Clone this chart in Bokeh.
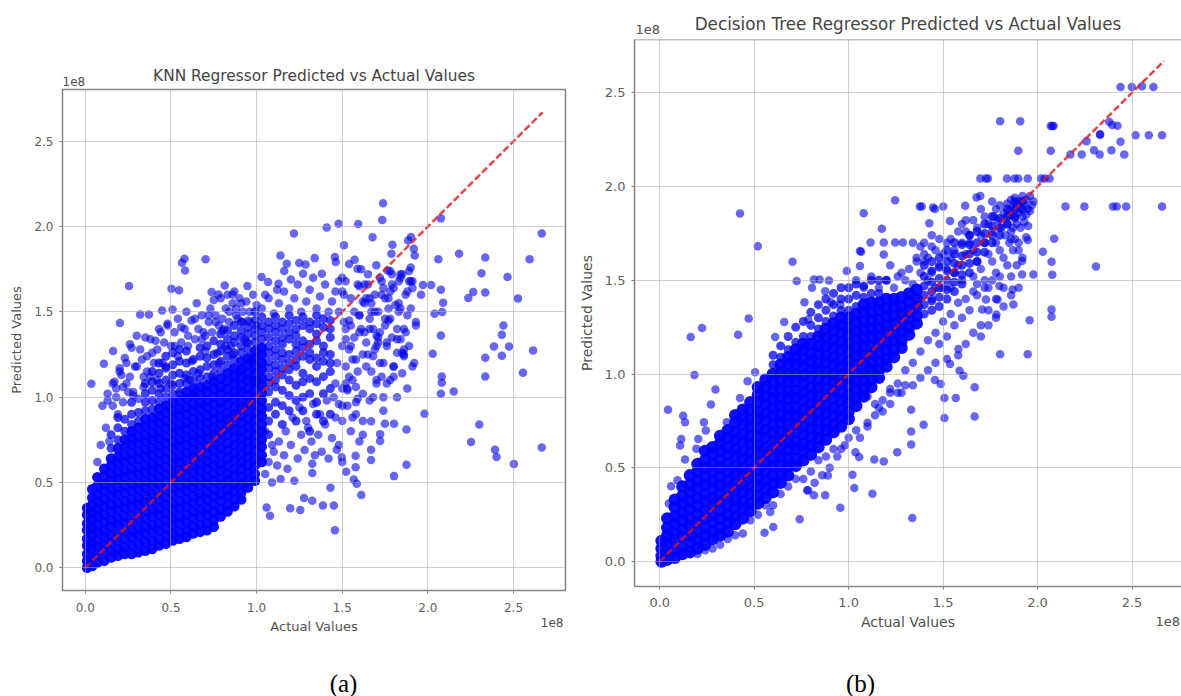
from bokeh.plotting import figure
from bokeh.layouts import row, column
from bokeh.models import FixedTicker, NumeralTickFormatter, Span, Title, Spacer
from bokeh.core.properties import value
from bokeh.embed import file_html
from bokeh.resources import INLINE

# All values are in units of 1e8, as the axes show them.
TICKS = [0.0, 0.5, 1.0, 1.5, 2.0, 2.5]
TITLE_A = "KNN Regressor Predicted vs Actual Values"
TITLE_B = "Decision Tree Regressor Predicted vs Actual Values"
X_LABEL = "Actual Values"
Y_LABEL = "Predicted Values"
IDEAL = [0.0, 2.67]

# ---- Panel (a): thick core, read column by column
a_core_x = [0.01, 0.04, 0.07, 0.11, 0.15, 0.19, 0.23, 0.27, 0.31, 0.35, 0.39, 0.43, 0.47, 0.51, 0.55, 0.59, 0.63, 0.67, 0.71, 0.75, 0.79, 0.83, 0.87, 0.91, 0.95, 0.99, 1.03]
a_core_y = [
 [0.00, 0.04, 0.08, 0.13, 0.17, 0.22, 0.26, 0.31, 0.35],
 [0.01, 0.05, 0.10, 0.14, 0.19, 0.23, 0.28, 0.32, 0.37, 0.41, 0.46],
 [0.03, 0.07, 0.12, 0.16, 0.21, 0.25, 0.30, 0.34, 0.39, 0.43, 0.48, 0.53],
 [0.04, 0.09, 0.13, 0.18, 0.22, 0.27, 0.31, 0.36, 0.40, 0.45, 0.49, 0.54, 0.58],
 [0.06, 0.10, 0.15, 0.19, 0.24, 0.28, 0.33, 0.37, 0.42, 0.46, 0.51, 0.55, 0.60, 0.64],
 [0.07, 0.11, 0.16, 0.20, 0.25, 0.29, 0.34, 0.38, 0.43, 0.47, 0.52, 0.56, 0.61, 0.65, 0.70],
 [0.08, 0.12, 0.17, 0.21, 0.26, 0.30, 0.35, 0.39, 0.44, 0.48, 0.53, 0.57, 0.62, 0.66, 0.71, 0.75],
 [0.08, 0.13, 0.18, 0.22, 0.27, 0.31, 0.36, 0.40, 0.45, 0.49, 0.54, 0.58, 0.63, 0.67, 0.72, 0.76, 0.80],
 [0.09, 0.14, 0.19, 0.23, 0.28, 0.32, 0.37, 0.41, 0.46, 0.50, 0.55, 0.59, 0.64, 0.68, 0.73, 0.77, 0.82],
 [0.10, 0.15, 0.20, 0.24, 0.29, 0.33, 0.38, 0.42, 0.47, 0.51, 0.56, 0.60, 0.65, 0.69, 0.74, 0.78, 0.83, 0.87],
 [0.11, 0.16, 0.21, 0.25, 0.30, 0.34, 0.39, 0.43, 0.48, 0.52, 0.57, 0.61, 0.66, 0.70, 0.75, 0.79, 0.84, 0.88],
 [0.13, 0.17, 0.22, 0.26, 0.31, 0.35, 0.40, 0.44, 0.49, 0.53, 0.58, 0.62, 0.67, 0.71, 0.76, 0.80, 0.85, 0.89, 0.93],
 [0.14, 0.19, 0.23, 0.28, 0.32, 0.37, 0.41, 0.46, 0.50, 0.55, 0.59, 0.64, 0.68, 0.73, 0.77, 0.82, 0.86, 0.91, 0.95],
 [0.16, 0.20, 0.25, 0.29, 0.34, 0.38, 0.43, 0.47, 0.52, 0.56, 0.61, 0.65, 0.70, 0.74, 0.79, 0.83, 0.88, 0.92, 0.97],
 [0.17, 0.21, 0.26, 0.30, 0.35, 0.39, 0.44, 0.48, 0.53, 0.57, 0.62, 0.66, 0.71, 0.75, 0.80, 0.84, 0.89, 0.93, 0.98],
 [0.18, 0.22, 0.27, 0.31, 0.36, 0.40, 0.45, 0.49, 0.54, 0.58, 0.63, 0.67, 0.72, 0.76, 0.81, 0.85, 0.90, 0.94, 0.99, 1.03],
 [0.20, 0.24, 0.29, 0.33, 0.38, 0.42, 0.47, 0.51, 0.56, 0.60, 0.65, 0.69, 0.74, 0.78, 0.83, 0.87, 0.92, 0.96, 1.01, 1.05],
 [0.21, 0.25, 0.30, 0.34, 0.39, 0.43, 0.48, 0.52, 0.57, 0.61, 0.66, 0.70, 0.75, 0.79, 0.84, 0.88, 0.93, 0.97, 1.02, 1.06],
 [0.22, 0.26, 0.31, 0.35, 0.40, 0.44, 0.49, 0.53, 0.58, 0.62, 0.67, 0.71, 0.76, 0.80, 0.85, 0.89, 0.94, 0.98, 1.03, 1.07],
 [0.24, 0.28, 0.33, 0.37, 0.42, 0.46, 0.51, 0.55, 0.60, 0.64, 0.69, 0.73, 0.78, 0.82, 0.87, 0.91, 0.96, 1.00, 1.05, 1.09],
 [0.30, 0.34, 0.39, 0.43, 0.48, 0.52, 0.57, 0.61, 0.66, 0.70, 0.75, 0.79, 0.84, 0.88, 0.93, 0.97, 1.02, 1.06, 1.11],
 [0.33, 0.37, 0.42, 0.46, 0.51, 0.55, 0.60, 0.64, 0.69, 0.73, 0.78, 0.82, 0.87, 0.91, 0.96, 1.00, 1.05, 1.09, 1.14],
 [0.36, 0.40, 0.45, 0.49, 0.54, 0.58, 0.63, 0.67, 0.72, 0.76, 0.81, 0.85, 0.90, 0.94, 0.99, 1.03, 1.08, 1.12, 1.17],
 [0.40, 0.44, 0.49, 0.53, 0.58, 0.62, 0.67, 0.71, 0.76, 0.80, 0.85, 0.89, 0.94, 0.98, 1.03, 1.07, 1.12, 1.16, 1.21],
 [0.47, 0.51, 0.56, 0.60, 0.65, 0.69, 0.74, 0.78, 0.83, 0.87, 0.92, 0.96, 1.01, 1.05, 1.10, 1.14, 1.19, 1.23],
 [0.51, 0.55, 0.60, 0.64, 0.69, 0.73, 0.78, 0.82, 0.87, 0.91, 0.96, 1.00, 1.05, 1.09, 1.14, 1.18, 1.23, 1.27],
 [0.62, 0.66, 0.71, 0.75, 0.80, 0.84, 0.89, 0.93, 0.98, 1.02, 1.07, 1.11, 1.16, 1.20, 1.25, 1.29],
]
# Panel (a): the broken, not quite solid part of the cloud, read column by column
a_mid_x = [0.15, 0.19, 0.23, 0.27, 0.31, 0.35, 0.39, 0.43, 0.47, 0.51, 0.55, 0.59, 0.63, 0.67, 0.71, 0.75, 0.79, 0.83, 0.87, 0.91, 0.95, 0.99, 1.03, 1.07, 1.11, 1.15, 1.19, 1.23, 1.27, 1.31, 1.35, 1.39, 1.43]
a_mid_y = [
 [0.70, 0.78],
 [0.75, 0.82, 0.88],
 [0.80, 0.87],
 [0.84, 0.90, 0.97],
 [0.86, 0.91],
 [0.92, 0.97, 1.02, 1.08],
 [0.93, 0.98, 1.04, 1.09, 1.15],
 [0.97, 1.02, 1.08, 1.14, 1.20],
 [1.00, 1.05, 1.10, 1.17, 1.24],
 [1.02, 1.07, 1.13, 1.19, 1.26],
 [1.03, 1.08, 1.14, 1.21, 1.28],
 [1.08, 1.13, 1.20, 1.27],
 [1.10, 1.15, 1.22],
 [1.11, 1.16, 1.24, 1.29],
 [1.12, 1.18, 1.23, 1.30],
 [1.14, 1.19, 1.25, 1.33],
 [1.16, 1.21, 1.27, 1.31, 1.37],
 [1.19, 1.24, 1.28, 1.34, 1.39],
 [1.22, 1.26, 1.32, 1.36, 1.42],
 [1.26, 1.30, 1.35, 1.39, 1.44],
 [1.28, 1.32, 1.37, 1.41],
 [1.32, 1.36, 1.40, 1.45, 1.50],
 [1.34, 1.38, 1.42, 1.47],
 [0.78, 0.86, 0.94, 1.03, 1.08, 1.12, 1.17, 1.21, 1.26, 1.30, 1.35, 1.40, 1.44],
 [0.90, 0.97, 1.06, 1.10, 1.15, 1.19, 1.24, 1.28, 1.33, 1.38, 1.42, 1.47],
 [0.84, 0.95, 1.04, 1.13, 1.17, 1.22, 1.26, 1.31, 1.35, 1.40, 1.44],
 [0.92, 1.01, 1.10, 1.16, 1.20, 1.25, 1.34, 1.38, 1.43, 1.48],
 [0.86, 0.98, 1.07, 1.18, 1.22, 1.27, 1.31, 1.36, 1.40, 1.45],
 [0.92, 1.00, 1.09, 1.14, 1.24, 1.29, 1.33, 1.42, 1.47],
 [0.80, 1.02, 1.11, 1.22, 1.26, 1.31, 1.40, 1.44],
 [0.90, 0.97, 1.09, 1.18, 1.23, 1.33, 1.37, 1.43, 1.48],
 [0.86, 1.02, 1.12, 1.21, 1.26, 1.30, 1.41, 1.46],
 [0.90, 1.05, 1.15, 1.20, 1.25, 1.35, 1.40, 1.45],
]

# ---- Panel (a): separately visible points
a_actual = [
 1.738, 1.734, 2.076, 2.665, 1.593, 1.479, 1.409, 1.218, 1.677, 1.510, 1.793, 1.787, 1.901, 1.885, 1.918, 1.923, 2.061, 2.182, 2.335, 2.594,
 2.313, 2.465, 2.335, 2.265, 2.236, 2.526, 2.076, 1.971, 2.019, 2.089, 2.083, 2.039, 2.076, 2.028, 2.441, 2.432, 2.386, 2.474, 2.432, 2.335,
 2.614, 2.335, 2.555, 2.081, 2.081, 2.076, 2.151, 1.980, 2.300, 2.252, 2.665, 2.392, 2.401, 2.502, 1.875, 1.802, 1.875, 1.749, 1.802, 1.611,
 1.457, 1.431, 1.451, 1.387, 1.325, 1.277, 1.255, 1.196, 1.078, 1.058, 1.668, 1.721, 1.721, 1.668, 1.668, 1.578, 1.497, 1.468, 1.578, 1.523,
 1.567, 1.585, 1.325, 1.325, 0.035, 0.255, 0.579, 0.564, 0.582, 0.702, 0.202, 0.108, 0.162, 0.503, 0.547, 0.320, 0.371, 0.448, 0.509, 0.814,
 0.946, 0.737, 0.777, 0.860, 1.139, 1.176, 1.161, 1.249, 1.286, 1.339, 1.457, 1.462, 1.271, 1.381, 1.029, 1.067, 1.128, 1.572, 1.589, 1.699,
 1.765,
 0.16, 0.19, 0.14, 0.22, 0.25, 0.28, 0.31, 0.24, 0.21, 0.34, 0.38, 0.29, 0.36, 0.42, 0.33, 0.39, 0.45, 0.41, 0.27, 0.18,
 0.12, 0.09, 0.07, 0.13, 0.17, 0.23, 0.20, 0.26, 0.30, 0.35, 0.43, 0.48, 0.52, 0.47, 0.56, 0.60, 0.54, 0.64, 0.58, 0.62,
 0.68, 0.66, 0.72, 0.70, 0.76, 0.74, 0.80, 0.78, 0.84, 0.82, 0.88, 0.86, 0.92, 0.90, 0.96, 0.94, 1.00, 0.98, 0.50, 0.44,
 0.55, 0.61, 0.59, 0.65, 0.69, 0.63, 0.73, 0.77, 0.75, 0.81, 0.79, 0.85, 0.83, 0.89, 0.87, 0.93, 0.91, 0.97, 0.95, 1.01,
 1.50, 1.53, 1.56, 1.59, 1.62, 1.65, 1.68, 1.71, 1.74, 1.77, 1.80, 1.83, 1.86, 1.89, 1.52, 1.55, 1.58, 1.61, 1.64, 1.67,
 1.70, 1.73, 1.76, 1.79, 1.82, 1.85, 1.88, 1.91, 1.51, 1.54, 1.57, 1.60, 1.63, 1.66, 1.69, 1.72, 1.75, 1.78, 1.81, 1.84,
 1.87, 1.90, 1.50, 1.56, 1.62, 1.68, 1.74, 1.80, 1.86, 1.53, 1.59, 1.65, 1.71, 1.77, 1.83, 1.89, 1.51, 1.58, 1.64, 1.70,
 1.76, 1.82, 1.88, 1.55, 1.61, 1.67, 1.73, 1.79, 1.85, 1.91, 1.52, 1.60, 1.66, 1.72, 1.78, 1.84, 1.90, 1.93, 1.96, 1.54,
 1.63, 1.69, 1.75,
 1.03, 1.07, 1.10, 1.13, 1.16, 1.19, 1.22, 1.24, 1.26, 1.29, 1.31, 1.33, 1.35, 1.37, 1.40, 1.42, 1.44, 1.46, 1.48, 1.20, 1.12, 1.05,
 1.50, 1.52, 1.54, 1.55, 1.57, 1.59, 1.60, 1.62, 1.63, 1.65, 1.66, 1.67, 1.69, 1.70, 1.71, 1.73, 1.74, 1.75, 1.77, 1.78, 1.79, 1.80,
 1.82, 1.83, 1.84, 1.85, 1.86, 1.87, 1.88, 1.89, 1.90, 1.91, 1.92, 1.93, 1.50, 1.52, 1.54, 1.56, 1.58, 1.60, 1.62, 1.64, 1.66, 1.68,
 1.70, 1.72, 1.74, 1.76, 1.78, 1.80, 1.82, 1.84, 1.86, 1.50, 1.52, 1.48, 1.47, 1.46, 1.48, 1.50, 1.53, 1.55, 1.58, 1.60, 1.62,
 0.10, 0.13, 0.16, 0.18, 0.20, 0.22, 0.24, 0.26, 0.28, 0.30, 0.32, 0.34, 0.36, 0.38, 0.40, 0.42, 0.44, 0.46, 0.48, 0.50, 0.52, 0.54,
 0.56, 0.58, 0.60, 0.62, 0.64, 0.66, 0.68, 0.70, 0.72, 0.74, 0.76, 0.78, 0.80, 0.82, 0.84, 0.86, 0.88, 0.90, 0.92, 0.94, 0.96, 0.98, 1.00,
 1.05, 1.07, 1.09, 1.10, 1.12, 1.13, 1.14, 1.16, 1.18, 1.20, 1.22, 1.24, 1.26, 1.28, 1.30, 1.32, 1.34, 1.36, 1.38, 1.40, 1.42, 1.44,
 1.46, 1.48, 1.50, 1.05, 1.09, 1.17, 1.21, 1.25, 1.29, 1.33, 1.37, 1.41, 1.45,
]
a_predicted = [
 2.136, 2.039, 2.048, 1.960, 2.015, 2.017, 1.994, 1.960, 1.937, 1.890, 1.894, 1.841, 1.939, 1.919, 1.870, 1.831, 1.808, 1.841, 1.819, 1.808,
 1.726, 1.704, 1.614, 1.616, 1.581, 1.579, 1.630, 1.657, 1.657, 1.553, 1.499, 1.489, 1.362, 1.254, 1.420, 1.366, 1.297, 1.297, 1.243, 1.231,
 1.274, 1.121, 1.143, 1.121, 1.084, 1.020, 1.033, 0.903, 0.840, 0.737, 0.705, 0.691, 0.649, 0.608, 0.604, 0.537, 0.811, 0.844, 0.844, 0.427,
 0.220, 0.469, 0.365, 0.365, 0.392, 0.409, 0.338, 0.349, 0.305, 0.353, 0.859, 0.782, 0.743, 0.691, 0.631, 0.656, 0.647, 0.691, 0.589, 0.562,
 0.517, 0.492, 0.610, 0.556, 1.078, 1.651, 1.812, 1.788, 1.743, 1.808, 1.434, 1.196, 1.270, 1.636, 1.626, 1.485, 1.485, 1.508, 1.514, 1.655,
 1.651, 1.616, 1.602, 1.602, 1.831, 1.782, 1.739, 1.786, 1.778, 1.815, 1.821, 1.792, 1.724, 1.724, 1.704, 1.675, 1.665, 1.806, 1.753, 1.773,
 1.743,
 0.95, 0.90, 0.74, 0.97, 1.03, 1.01, 0.99, 1.08, 1.13, 1.06, 1.12, 1.18, 1.15, 1.10, 1.22, 1.26, 1.20, 1.33, 1.29, 1.05,
 0.82, 0.72, 0.62, 0.98, 1.09, 1.23, 1.17, 1.31, 1.36, 1.35, 1.40, 1.43, 1.30, 1.18, 1.41, 1.36, 1.24, 1.46, 1.11, 1.21,
 1.34, 1.14, 1.48, 1.27, 1.44, 1.12, 1.39, 1.20, 1.50, 1.30, 1.52, 1.25, 1.44, 1.15, 1.50, 1.32, 1.42, 1.10, 1.08, 1.05,
 1.02, 1.10, 1.50, 1.55, 1.38, 1.02, 1.52, 1.26, 1.57, 1.40, 1.58, 1.30, 1.60, 1.46, 1.62, 1.34, 1.55, 1.22, 1.45, 1.10,
 0.95, 1.05, 0.88, 1.15, 0.78, 1.25, 1.00, 1.35, 0.92, 1.45, 1.12, 1.55, 1.25, 1.68, 1.08, 1.30, 0.97, 1.40, 1.18, 1.50,
 1.10, 1.60, 1.32, 1.66, 1.40, 1.72, 1.48, 1.18, 1.60, 1.12, 1.50, 1.65, 1.38, 1.58, 1.28, 1.70, 1.46, 1.62, 1.54, 1.70,
 1.38, 1.76, 1.70, 1.22, 1.56, 1.40, 1.64, 1.18, 1.28, 1.04, 0.99, 1.66, 1.32, 1.52, 1.68, 1.74, 1.44, 1.06, 1.58, 1.36,
 1.08, 1.34, 1.62, 1.42, 1.75, 1.55, 1.12, 1.72, 1.26, 1.64, 1.34, 1.48, 1.46, 1.20, 1.74, 1.52, 1.68, 1.42, 1.60, 1.78,
 1.66, 1.50, 1.58,
 1.52, 1.58, 1.49, 1.55, 1.62, 1.52, 1.58, 1.66, 1.50, 1.56, 1.63, 1.70, 1.52, 1.59, 1.66, 1.50, 1.56, 1.62, 1.68, 1.69, 1.63, 1.60,
 1.62, 1.68, 1.45, 1.58, 1.35, 1.66, 1.48, 1.25, 1.55, 1.72, 1.40, 1.15, 1.60, 1.30, 1.50, 1.68, 1.20, 1.42, 1.58, 1.10, 1.35, 1.64,
 1.26, 1.50, 1.72, 1.14, 1.40, 1.60, 1.05, 1.30, 1.52, 1.68, 1.20, 1.44, 1.05, 1.18, 1.28, 1.10, 1.22, 1.38, 1.02, 1.32, 0.98, 1.24,
 1.08, 1.38, 1.00, 1.30, 1.46, 1.18, 1.00, 1.34, 1.24, 1.30, 1.40, 1.50, 1.20, 1.08, 0.96, 0.86, 0.95, 0.80, 0.90, 0.74, 0.86,
 0.95, 1.02, 1.08, 1.00, 1.15, 1.06, 1.20, 1.12, 1.03, 1.18, 1.28, 1.12, 1.24, 1.34, 1.20, 1.28, 1.38, 1.32, 1.42, 1.30, 1.38, 1.46,
 1.32, 1.40, 1.30, 1.45, 1.34, 1.40, 1.48, 1.36, 1.44, 1.38, 1.48, 1.42, 1.46, 1.52, 1.44, 1.55, 1.48, 1.58, 1.50, 1.56, 1.44, 1.60, 1.54,
 0.55, 0.62, 0.50, 0.68, 0.60, 0.74, 0.52, 0.66, 0.58, 0.72, 0.51, 0.64, 0.78, 0.69, 0.82, 0.74, 0.66, 0.78, 0.68, 0.84, 0.64, 0.76,
 0.88, 0.72, 0.62, 0.80, 0.72, 0.80, 0.88, 0.94, 0.86, 0.96, 0.90, 0.98, 1.00,
]

# ---- Panel (b): thick core, read column by column
b_core_x = [0.01, 0.04, 0.08, 0.12, 0.16, 0.20, 0.24, 0.28, 0.32, 0.36, 0.40, 0.44, 0.48, 0.52, 0.56, 0.60, 0.64, 0.68, 0.72, 0.76, 0.80, 0.84, 0.88, 0.92, 0.96, 1.00, 1.04, 1.08, 1.12, 1.16, 1.20, 1.24, 1.28, 1.32, 1.36]
b_core_y = [
 [0.00, 0.03, 0.07, 0.11],
 [0.01, 0.05, 0.09, 0.14, 0.18, 0.23],
 [0.02, 0.06, 0.11, 0.15, 0.20, 0.24, 0.29, 0.33],
 [0.04, 0.08, 0.13, 0.17, 0.22, 0.26, 0.31, 0.35, 0.40],
 [0.05, 0.10, 0.14, 0.19, 0.23, 0.28, 0.32, 0.37, 0.41, 0.46],
 [0.07, 0.12, 0.16, 0.21, 0.25, 0.30, 0.34, 0.39, 0.43, 0.48, 0.52],
 [0.09, 0.14, 0.18, 0.23, 0.27, 0.32, 0.36, 0.41, 0.45, 0.50, 0.54, 0.59],
 [0.12, 0.16, 0.21, 0.25, 0.30, 0.34, 0.39, 0.43, 0.48, 0.52, 0.57, 0.61],
 [0.14, 0.18, 0.23, 0.27, 0.32, 0.36, 0.41, 0.45, 0.50, 0.54, 0.59, 0.63, 0.67],
 [0.16, 0.21, 0.25, 0.30, 0.34, 0.39, 0.43, 0.48, 0.52, 0.57, 0.61, 0.66, 0.70],
 [0.20, 0.24, 0.29, 0.33, 0.38, 0.42, 0.47, 0.51, 0.56, 0.60, 0.65, 0.69, 0.74, 0.78],
 [0.23, 0.28, 0.32, 0.37, 0.41, 0.46, 0.50, 0.55, 0.59, 0.64, 0.68, 0.73, 0.77, 0.81],
 [0.27, 0.31, 0.36, 0.40, 0.45, 0.49, 0.54, 0.58, 0.63, 0.67, 0.72, 0.76, 0.81, 0.85],
 [0.31, 0.35, 0.40, 0.44, 0.49, 0.53, 0.58, 0.62, 0.67, 0.71, 0.76, 0.80, 0.85, 0.89, 0.93],
 [0.34, 0.39, 0.43, 0.48, 0.52, 0.57, 0.61, 0.66, 0.70, 0.75, 0.79, 0.84, 0.88, 0.93, 0.97],
 [0.37, 0.42, 0.46, 0.51, 0.55, 0.60, 0.64, 0.69, 0.73, 0.78, 0.82, 0.87, 0.91, 0.96, 1.00],
 [0.42, 0.47, 0.51, 0.56, 0.60, 0.65, 0.69, 0.74, 0.78, 0.83, 0.87, 0.92, 0.96, 1.01, 1.05],
 [0.46, 0.51, 0.55, 0.60, 0.64, 0.69, 0.73, 0.78, 0.82, 0.87, 0.91, 0.96, 1.00, 1.05, 1.09],
 [0.51, 0.55, 0.60, 0.64, 0.69, 0.73, 0.78, 0.82, 0.87, 0.91, 0.96, 1.00, 1.05, 1.09, 1.13],
 [0.54, 0.59, 0.63, 0.68, 0.72, 0.77, 0.81, 0.86, 0.90, 0.95, 0.99, 1.04, 1.08, 1.13, 1.16],
 [0.57, 0.62, 0.66, 0.71, 0.75, 0.80, 0.84, 0.89, 0.93, 0.98, 1.02, 1.07, 1.11, 1.16],
 [0.61, 0.66, 0.70, 0.75, 0.79, 0.84, 0.88, 0.93, 0.97, 1.02, 1.06, 1.11, 1.15, 1.20],
 [0.65, 0.70, 0.74, 0.79, 0.83, 0.88, 0.92, 0.97, 1.01, 1.06, 1.10, 1.15, 1.19, 1.24],
 [0.69, 0.73, 0.78, 0.82, 0.87, 0.91, 0.96, 1.00, 1.05, 1.09, 1.14, 1.18, 1.23, 1.27],
 [0.72, 0.77, 0.81, 0.86, 0.90, 0.95, 0.99, 1.04, 1.08, 1.13, 1.17, 1.22, 1.26, 1.30],
 [0.76, 0.80, 0.85, 0.89, 0.94, 0.98, 1.03, 1.07, 1.12, 1.16, 1.21, 1.25, 1.30],
 [0.83, 0.87, 0.92, 0.96, 1.01, 1.05, 1.10, 1.14, 1.19, 1.23, 1.28, 1.32],
 [0.88, 0.92, 0.97, 1.01, 1.06, 1.10, 1.15, 1.19, 1.24, 1.28, 1.33, 1.37],
 [0.93, 0.97, 1.02, 1.06, 1.11, 1.15, 1.20, 1.24, 1.29, 1.33, 1.38],
 [0.98, 1.02, 1.07, 1.11, 1.16, 1.20, 1.25, 1.29, 1.34, 1.38],
 [1.04, 1.08, 1.13, 1.17, 1.22, 1.26, 1.31, 1.35, 1.40],
 [1.09, 1.13, 1.18, 1.22, 1.27, 1.31, 1.36, 1.40],
 [1.14, 1.18, 1.23, 1.27, 1.32, 1.36, 1.41],
 [1.21, 1.25, 1.30, 1.34, 1.39, 1.43],
 [1.27, 1.31, 1.36, 1.40, 1.45],
]
# Panel (b): the broken part of the cloud near the diagonal, read column by column
b_mid_x = [0.60, 0.64, 0.68, 0.72, 0.76, 0.80, 0.84, 0.88, 0.92, 0.96, 1.00, 1.04, 1.08, 1.12, 1.16, 1.20, 1.40, 1.44, 1.48, 1.52, 1.56, 1.60, 1.64, 1.68, 1.72, 1.76, 1.80, 1.84, 1.88, 1.92]
b_mid_y = [
 [1.05, 1.10],
 [1.09, 1.15],
 [1.13, 1.20],
 [1.17, 1.25],
 [1.20, 1.28],
 [1.20, 1.26, 1.33],
 [1.24, 1.30, 1.37],
 [1.28, 1.34, 1.40],
 [1.31, 1.37, 1.43],
 [1.34, 1.40, 1.46],
 [1.34, 1.40, 1.46],
 [1.36, 1.42, 1.48],
 [1.41, 1.47],
 [1.43, 1.50],
 [1.43, 1.50],
 [1.50],
 [1.32, 1.37, 1.42, 1.47, 1.52, 1.58],
 [1.34, 1.39, 1.44, 1.49, 1.55, 1.60],
 [1.36, 1.41, 1.46, 1.51, 1.57, 1.62],
 [1.40, 1.45, 1.50, 1.55, 1.60, 1.66],
 [1.44, 1.49, 1.54, 1.59, 1.64, 1.70],
 [1.48, 1.53, 1.58, 1.63, 1.69],
 [1.54, 1.59, 1.64, 1.69, 1.74],
 [1.60, 1.65, 1.70, 1.76],
 [1.65, 1.70, 1.75, 1.80],
 [1.70, 1.74, 1.79, 1.84],
 [1.74, 1.78, 1.83],
 [1.80, 1.84, 1.88],
 [1.84, 1.88, 1.92],
 [1.88, 1.92],
]

# ---- Panel (b): separately visible points
b_actual = [
 2.439, 2.499, 2.553, 2.613, 1.802, 1.908, 2.078, 2.070, 2.085, 2.379, 2.395, 2.423, 2.331, 2.331, 2.519, 2.589, 2.659, 2.259, 2.439, 1.898,
 2.070, 2.299, 2.391, 2.174, 2.234, 2.329, 2.459, 1.697, 1.727, 1.737, 1.838, 1.878, 1.898, 1.948, 2.018, 2.038, 2.064, 2.148, 2.248, 2.399,
 2.419, 2.469, 2.659, 1.377, 1.387, 1.447, 1.457, 1.501, 1.246, 1.080, 0.425, 0.519, 0.703, 0.725, 1.427, 1.537, 1.617, 1.677, 1.697, 1.176,
 1.116, 1.186, 1.246, 1.287, 1.060, 1.066, 1.186, 2.088, 1.948, 2.028, 2.074, 1.918, 2.309, 2.078, 1.978, 1.918, 2.074, 2.074, 1.958, 1.872,
 1.782, 1.707, 1.727, 1.788, 1.798, 1.868, 0.990, 1.060, 0.816, 0.846, 0.896, 0.806, 0.876, 0.766, 0.906, 0.956, 0.471, 0.659, 0.786, 0.224,
 0.164, 0.415, 0.611, 0.856, 1.802, 1.948, 1.581, 1.537, 1.587, 1.607, 1.667, 1.667, 1.507, 1.507, 1.567, 1.457, 1.487, 1.397, 1.331, 1.331,
 1.331, 1.257, 1.186, 1.136, 1.020, 1.030, 1.126, 0.956, 1.337, 0.741, 0.555, 0.601, 0.585, 0.876, 0.890, 0.816, 0.786, 1.056, 1.036, 0.184,
 0.044, 0.295, 0.271, 0.124, 0.134, 0.114, 0.108, 0.234, 0.244, 0.204, 0.194, 0.134, 0.465, 0.505, 0.425, 0.315, 0.355, 0.094, 0.060, 0.048,
 1.84, 1.86, 1.88, 1.90, 1.92, 1.94, 1.96, 1.98, 1.85, 1.87, 1.89, 1.91, 1.93, 1.95, 1.97, 1.84, 1.86, 1.88, 1.90, 1.92,
 1.94, 1.96, 1.87, 1.89, 1.91, 1.93, 1.95, 1.86, 1.90, 1.94, 1.76, 1.78, 1.80, 1.82, 1.84, 1.86, 1.88, 1.90, 1.92, 1.77,
 1.79, 1.81, 1.83, 1.85, 1.87, 1.89, 1.70, 1.72, 1.74, 1.76, 1.78, 1.80, 1.82, 1.84, 1.86, 1.66, 1.68, 1.70, 1.72, 1.74,
 1.76, 1.78, 1.60, 1.62, 1.64, 1.66, 1.68, 1.70, 1.72, 1.74, 1.62, 1.64, 1.66, 1.68, 1.58, 1.60, 1.62, 1.54, 1.56, 1.58,
 1.60, 1.52, 1.54, 1.56, 1.48, 1.50, 1.52, 1.54, 1.44, 1.46, 1.48, 1.50, 1.40, 1.42, 1.44, 1.46, 1.38, 1.40, 1.42, 1.44,
 1.36, 1.38, 1.34, 1.30, 1.34, 1.28, 1.24, 1.20, 1.16, 1.22, 1.26, 1.32, 1.36, 1.40, 1.44, 1.12, 1.08, 1.04, 1.10, 1.14,
 1.18, 1.22, 1.26, 1.30, 1.34, 1.38, 1.42, 1.46, 1.50, 1.54, 1.58, 1.62, 1.66, 1.48, 1.52, 1.56, 1.60, 1.64, 1.68, 1.72,
 1.76, 1.80, 1.58, 1.62, 1.66, 1.70, 1.74, 1.78, 1.82, 1.70, 1.74, 1.78, 1.82, 1.86, 1.90, 1.52, 1.46, 1.42, 1.38, 1.34,
 1.28, 1.22, 1.16, 1.10, 1.04, 1.00, 0.96, 0.92, 0.88, 0.84, 0.80, 0.76, 0.72, 0.68, 0.64, 0.60, 0.56, 0.52, 0.48, 0.44,
 0.40, 0.36, 0.32, 0.28, 0.24, 0.20, 0.16, 1.10, 1.14, 1.18, 1.22, 1.26, 1.30, 1.06, 0.98, 0.94, 0.90, 0.86, 0.82, 0.78,
]
b_predicted = [
 2.531, 2.531, 2.535, 2.531, 2.348, 2.348, 2.323, 2.323, 2.323, 2.346, 2.328, 2.324, 2.275, 2.280, 2.273, 2.273, 2.273, 2.242, 2.239, 2.191,
 2.191, 2.194, 2.194, 2.171, 2.171, 2.171, 2.171, 2.043, 2.043, 2.043, 2.043, 2.043, 2.043, 2.043, 2.043, 2.043, 2.043, 1.893, 1.893, 1.893,
 1.893, 1.893, 1.893, 1.893, 1.893, 1.888, 1.880, 1.893, 1.927, 1.857, 1.856, 1.681, 1.599, 1.496, 1.804, 1.816, 1.897, 1.941, 1.950, 1.775,
 1.701, 1.701, 1.701, 1.701, 1.656, 1.652, 1.638, 1.722, 1.715, 1.652, 1.599, 1.603, 1.574, 1.529, 1.531, 1.531, 1.344, 1.305, 1.287, 1.371,
 1.317, 1.344, 1.397, 1.397, 1.469, 1.451, 1.549, 1.576, 1.504, 1.504, 1.499, 1.460, 1.442, 1.383, 1.383, 1.371, 1.296, 1.278, 1.291, 1.246,
 1.198, 1.210, 1.198, 1.210, 1.106, 1.106, 1.133, 1.053, 1.018, 0.991, 0.929, 0.773, 0.766, 0.872, 0.872, 0.968, 0.947, 0.729, 0.810, 0.693,
 0.624, 0.583, 0.534, 0.544, 0.463, 0.392, 0.362, 0.287, 0.232, 0.225, 0.154, 0.184, 0.264, 0.353, 0.459, 0.353, 0.379, 0.557, 0.583, 0.995,
 0.810, 0.917, 0.837, 0.778, 0.743, 0.654, 0.619, 0.743, 0.699, 0.654, 0.601, 0.544, 0.961, 1.009, 0.872, 0.654, 0.743, 0.433, 0.402, 0.309,
 1.91, 1.93, 1.94, 1.92, 1.95, 1.93, 1.95, 1.92, 1.87, 1.89, 1.90, 1.88, 1.90, 1.88, 1.90, 1.84, 1.85, 1.83, 1.86, 1.84,
 1.85, 1.87, 1.78, 1.80, 1.78, 1.81, 1.79, 1.72, 1.70, 1.73, 1.92, 1.88, 1.90, 1.86, 1.80, 1.76, 1.72, 1.66, 1.62, 1.84,
 1.82, 1.78, 1.74, 1.70, 1.66, 1.58, 1.88, 1.84, 1.80, 1.76, 1.70, 1.66, 1.62, 1.58, 1.52, 1.82, 1.78, 1.74, 1.70, 1.64,
 1.60, 1.54, 1.80, 1.76, 1.70, 1.66, 1.60, 1.56, 1.50, 1.46, 1.82, 1.74, 1.52, 1.48, 1.76, 1.70, 1.64, 1.72, 1.66, 1.58,
 1.50, 1.70, 1.62, 1.54, 1.72, 1.64, 1.56, 1.46, 1.74, 1.66, 1.58, 1.46, 1.70, 1.62, 1.54, 1.46, 1.68, 1.60, 1.50, 1.40,
 1.62, 1.54, 1.70, 1.50, 1.48, 1.54, 1.46, 1.50, 1.46, 1.58, 1.52, 1.56, 1.60, 1.64, 1.68, 1.52, 1.46, 1.50, 0.88, 0.84,
 0.86, 0.90, 0.95, 1.02, 1.06, 1.12, 1.18, 1.22, 1.28, 1.32, 1.38, 1.40, 1.44, 1.16, 1.20, 1.26, 1.30, 1.34, 1.42, 1.46,
 1.50, 1.52, 1.10, 1.16, 1.22, 1.26, 1.34, 1.40, 1.46, 1.20, 1.26, 1.30, 1.36, 1.42, 1.46, 1.08, 1.06, 1.02, 0.98, 0.94,
 0.90, 0.92, 0.82, 0.72, 0.70, 0.66, 0.60, 0.60, 0.56, 0.54, 0.48, 0.44, 0.44, 0.40, 0.36, 0.30, 0.30, 0.25, 0.22, 0.15,
 0.14, 0.12, 0.09, 0.07, 0.06, 0.04, 0.04, 0.74, 0.78, 0.80, 0.84, 0.90, 0.94, 0.66, 0.62, 0.56, 0.50, 0.46, 0.42, 0.38,
]

CAPTION_A = "(a)"
CAPTION_B = "(b)"


def flatten(xs, ys):
    fx, fy = [], []
    for x, col in zip(xs, ys):
        for y in col:
            fx.append(x)
            fy.append(y)
    return fx, fy


def note(px, align, offset, standoff):
    return Title(text="1e8", align=align, offset=offset, standoff=standoff, text_font="DejaVu Sans",
                 text_font_size=px, text_font_style="normal", text_color="#505050")


def panel(width, height, left, right, top, bottom, x_range, y_range, title, sizes, core, mid, pts,
          title_standoff, upper, lower, x_tick_standoff, open_right, core_px):
    tick_px, label_px, title_px, note_px = sizes
    p = figure(width=width, height=height, x_range=x_range, y_range=y_range,
               output_backend="svg", toolbar_location=None, tools="",
               min_border_left=left, min_border_right=right, min_border_top=top, min_border_bottom=bottom,
               background_fill_color="white", border_fill_color="white")
    p.title.text = title
    p.title.align = "center"
    p.title.text_font = "DejaVu Sans"
    p.title.text_font_size = title_px
    p.title.text_font_style = "normal"
    p.title.text_color = "#444444"
    p.title.standoff = title_standoff

    frame_color = "#858585"
    p.outline_line_color = None if open_right else frame_color
    p.outline_line_width = 1.5

    for ax, lab in ((p.xaxis[0], X_LABEL), (p.yaxis[0], Y_LABEL)):
        ax.ticker = FixedTicker(ticks=TICKS)
        ax.formatter = NumeralTickFormatter(format="0.0")
        ax.axis_label = lab
        ax.axis_label_text_font = "DejaVu Sans"
        ax.axis_label_text_font_size = label_px
        ax.axis_label_text_font_style = "normal"
        ax.axis_label_text_color = "#505050"
        ax.major_label_text_font = "DejaVu Sans"
        ax.major_label_text_font_size = tick_px
        ax.major_label_text_color = "#606060"
        ax.axis_line_color = frame_color if open_right else None
        ax.axis_line_width = 1.5
        ax.major_tick_line_color = "#808080"
        ax.major_tick_in = 0
        ax.major_tick_out = 3
        ax.minor_tick_line_color = None
    p.xaxis[0].axis_label_standoff = 4
    p.yaxis[0].axis_label_standoff = 7
    p.xaxis[0].major_label_standoff = x_tick_standoff
    p.yaxis[0].major_label_standoff = 6

    p.grid.grid_line_color = "#a8a8a8"
    p.grid.grid_line_alpha = 0.55
    p.grid.grid_line_width = 1
    p.grid.level = "annotation"

    if open_right:
        p.add_layout(Span(location=y_range[1], dimension="width", line_color=frame_color, line_width=1.5))

    cx, cy = flatten(*core)
    mx, my = flatten(*mid)
    p.scatter(cx, cy, size=core_px, marker="circle", fill_color="#0000ff", fill_alpha=0.95, line_color=None)
    p.scatter(mx, my, size=9, marker="circle", fill_color="#0000f0", fill_alpha=0.75, line_color=None)
    p.scatter(pts[0], pts[1], size=8.5, marker="circle", fill_color="#0000e8", fill_alpha=0.6, line_color=None)
    p.line(IDEAL, IDEAL, line_color="#e0141e", line_alpha=0.8, line_width=2.5, line_dash="7 3")

    p.add_layout(note(note_px, "left", upper[0], upper[1]), "above")
    # The lower note sits nearest the frame in the stack, with a standoff that reaches past the axis row.
    p.below = [note(note_px, lower[0], lower[1], lower[2])] + list(p.below)
    return p


def caption_strip(width, height, text, x_px, y_px, first_row_px):
    p = figure(width=width, height=height, x_range=(0, width), y_range=(first_row_px + height, first_row_px),
               x_axis_type=None, y_axis_type=None, output_backend="svg", toolbar_location=None, tools="",
               min_border=0, outline_line_color=None)
    p.text([x_px], [y_px], text=[text], text_font=value("Liberation Serif"), text_font_size="25px",
           text_color="#000000", text_align="center", text_baseline="middle")
    return p


pa = panel(570, 594, 62, 5, 39, 54, (-0.1335, 2.8035), (-0.1335, 2.8035), TITLE_A,
           ("12px", "13px", "15.4px", "12px"),
           (a_core_x, a_core_y), (a_mid_x, a_mid_y), (a_actual, a_predicted),
           -28, (0, 8), ("right", 2, -72), 9, False, 10.5)
pb = panel(611, 640, 64, 0, 39, 54, (-0.1335, 2.762), (-0.133, 2.784), TITLE_B,
           ("13px", "14px", "16.8px", "13px"),
           (b_core_x, b_core_y), (b_mid_x, b_mid_y), (b_actual, b_predicted),
           -35, (1, 12), ("left", 521, -78), 8, True, 12.5)
ca = caption_strip(570, 52, CAPTION_A, 343, 683, 644)
cb = caption_strip(611, 52, CAPTION_B, 290, 683, 644)

left_col = column(Spacer(width=570, height=50), pa, spacing=0)
layout = column(row(left_col, pb, spacing=0), row(ca, cb, spacing=0), spacing=0)
open("out.html", "w").write(file_html(layout, INLINE))
